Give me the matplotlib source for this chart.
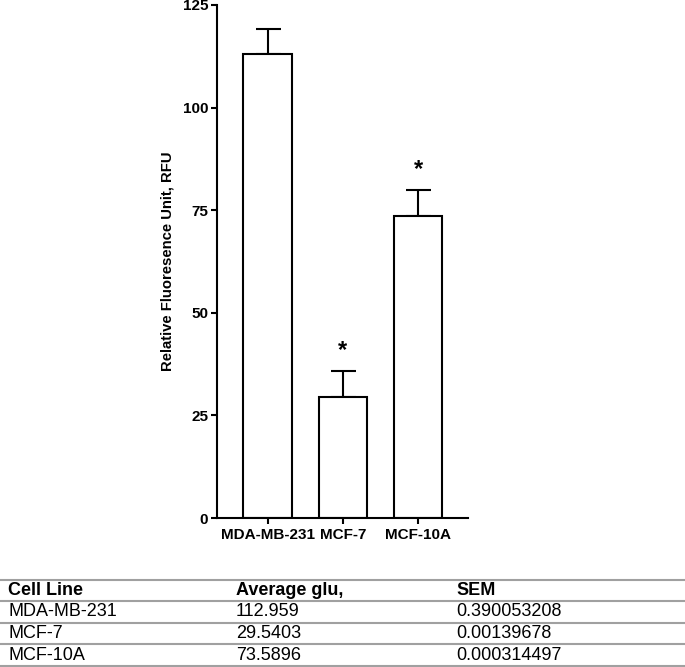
import matplotlib
matplotlib.use("Agg")
import matplotlib.pyplot as plt
from matplotlib.lines import Line2D

plt.rcParams['font.family'] = ['Liberation Sans', 'DejaVu Sans']

# data
cell_lines = ['MDA-MB-231', 'MCF-7', 'MCF-10A']
avg_glu = [112.959, 29.5403, 73.5896]
sem_tab = [0.390053208, 0.00139678, 0.000314497]
err_up = [6.3, 6.2, 6.3]          # error bars as drawn on the plot
signif = ['', '*', '*']
yticks = [0, 25, 50, 75, 100, 125]

W, H = 685, 667
fig = plt.figure(figsize=(W / 100, H / 100), dpi=100)

# axes placed in pixel terms
x0, x1 = 216.7, 468
y0, y1 = 518, 5
ax = fig.add_axes([x0 / W, 1 - y0 / H, (x1 - x0) / W, (y0 - y1) / H])

pos = list(range(len(cell_lines)))
ax.bar(pos, avg_glu, width=0.64, color='white', edgecolor='black', linewidth=1.5, zorder=2)
ax.errorbar(pos, avg_glu, yerr=[[0] * len(err_up), err_up], fmt='none',
            ecolor='black', elinewidth=1.5, capsize=9, capthick=1.5, zorder=1)
for p, v, e, s in zip(pos, avg_glu, err_up, signif):
    if s:
        ax.text(p, v + e + 5, s, ha='center', va='center', fontsize=17, fontweight='bold')

ax.set_xlim(-0.675, 2.66)
ax.set_ylim(0, 125)
ax.set_yticks(yticks)
ax.set_xticks(pos)
ax.set_xticklabels(cell_lines, fontweight='bold', fontsize=11)
ax.set_yticklabels([str(t) for t in yticks], fontweight='bold', fontsize=11)
ax.tick_params(width=1.5, length=4)
ax.tick_params(axis='y', pad=2)
ax.tick_params(axis='x', pad=3.5)
for side in ['top', 'right']:
    ax.spines[side].set_visible(False)
for side in ['left', 'bottom']:
    ax.spines[side].set_linewidth(1.5)
ax.set_ylabel('Relative Fluoresence Unit, RFU', fontweight='bold', fontsize=10.7)
ax.yaxis.set_label_coords((174 - x0) / (x1 - x0), 0.5)

# table under the chart
line_rows = [580, 601, 623, 644, 666]
text_rows = [590.5, 612, 633.5, 655]
cols = [8, 236, 456]
for yy in line_rows:
    fig.add_artist(Line2D([0, 1], [1 - yy / H, 1 - yy / H], transform=fig.transFigure,
                          color='#a0a0a0', linewidth=1.5))

header = ['Cell Line', 'Average glu,', 'SEM']
for c, h in zip(cols, header):
    fig.text(c / W, 1 - text_rows[0] / H, h, ha='left', va='center', fontsize=13, fontweight='bold')
for i, (name, a, s) in enumerate(zip(cell_lines, avg_glu, sem_tab)):
    yy = 1 - text_rows[i + 1] / H
    for c, t in zip(cols, [name, str(a), str(s)]):
        fig.text(c / W, yy, t, ha='left', va='center', fontsize=13)

fig.savefig('out.png', dpi=100)
